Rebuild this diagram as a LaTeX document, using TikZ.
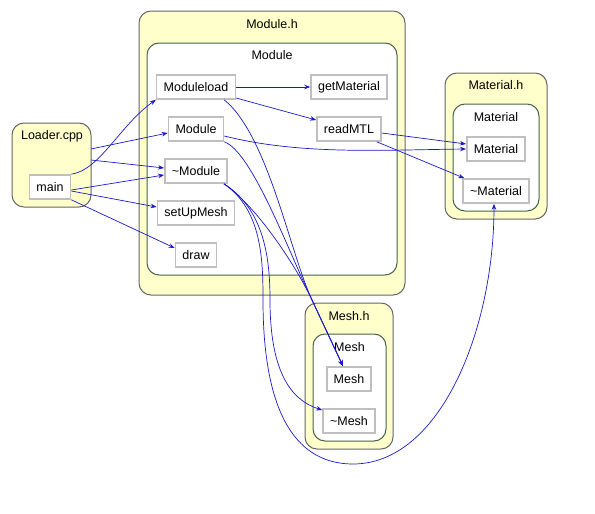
\documentclass[tikz,border=0pt]{standalone}
\usepackage{fontspec}
\setmainfont{Liberation Sans}
\usetikzlibrary{arrows.meta}
\definecolor{edgeblue}{RGB}{26,26,204}
\definecolor{filebg}{RGB}{255,255,204}
\definecolor{fileline}{RGB}{102,102,102}
\definecolor{classline}{RGB}{70,100,70}
\definecolor{fnline}{RGB}{191,191,191}
\tikzset{
  filebox/.style={draw=fileline, fill=filebg, rounded corners=12pt, line width=1pt},
  classbox/.style={draw=classline, fill=white, rounded corners=12pt, line width=1pt},
  fnbox/.style={draw=fnline, fill=white, line width=1.6pt, minimum height=24pt, inner xsep=7pt, font=\fontsize{12.5}{14}\selectfont},
  title/.style={font=\fontsize{12.5}{14}\selectfont},
  call/.style={draw=edgeblue, line width=0.7pt, -{Stealth[length=6pt,width=4.5pt]}},
}
\begin{document}
\begin{tikzpicture}[x=1pt, y=-1pt]
			\useasboundingbox (0,0) rectangle (595,514);
			
			%%%%% CLUSTERS %%%%%
			\draw[filebox] (12,123) rectangle (91,207);
			\node[title] (loadertitle) at (52,136) {Loader.cpp};
			
			\draw[filebox] (139,11) rectangle (405,295);
			\node[title] (moduletitle) at (272,24) {Module.h};
			\draw[classbox] (147,43) rectangle (397,275);
			\node[title] (moduleclass) at (272,55) {Module};
			
			\draw[filebox] (445,73) rectangle (547,219);
			\node[title] (materialtitle) at (496,85) {Material.h};
			\draw[classbox] (453,104) rectangle (539,211);
			\node[title] (materialclass) at (496,117) {Material};
			
			\draw[filebox] (305,303) rectangle (393,449);
			\node[title] (meshtitle) at (349,316) {Mesh.h};
			\draw[classbox] (313,334) rectangle (386,441);
			\node[title] (meshclass) at (349.5,347) {Mesh};
			
			%%%%% FUNCTIONS %%%%%
			\node[fnbox] (main) at (50,187) {main};
			
			\node[fnbox] (moduleload) at (196,87) {Moduleload};
			\node[fnbox] (getmaterial) at (349,87) {getMaterial};
			\node[fnbox] (module) at (196,129) {Module};
			\node[fnbox] (readmtl) at (349,129) {readMTL};
			\node[fnbox] (tmodule) at (196,171) {\textasciitilde Module};
			\node[fnbox] (setupmesh) at (196,213) {setUpMesh};
			\node[fnbox] (drawfn) at (196,255) {draw};
			
			\node[fnbox] (material) at (496,149) {Material};
			\node[fnbox] (tmaterial) at (496,191) {\textasciitilde Material};
			
			\node[fnbox] (mesh) at (349,379) {Mesh};
			\node[fnbox] (tmesh) at (349,421) {\textasciitilde Mesh};
			
			\coordinate (loaderA) at (91,149);
			\coordinate (loaderB) at (91,160);
			\coordinate (meshjoin) at (312,300);
			
			%%%%% CALLS %%%%%
			\draw[call] (main.north east) .. controls (100,170) and (120,125) .. (moduleload.south west);
			\draw[call] (loaderA) -- ([yshift=-4pt]module.west);
			\draw[call] (loaderB) -- ([yshift=3pt]tmodule.west);
			\draw[call] ([yshift=-3pt]main.east) -- ([yshift=-4pt]tmodule.west);
			\draw[call] ([yshift=-4pt]main.east) -- ([yshift=6pt]setupmesh.west);
			\draw[call] (main.south east) -- ([yshift=7pt]drawfn.west);
			
			\draw[call, line width=1pt] (moduleload.east) -- (getmaterial.west);
			\draw[call] ([yshift=-11pt]moduleload.east) -- ([yshift=9pt]readmtl.west);
			\draw[call] ([xshift=-12pt]moduleload.south east) .. controls (268,135) and (290,253) .. (meshjoin) -- ([xshift=-6pt]mesh.north);
			\draw[call] (module.south east) .. controls (252,152) and (288,250) .. (meshjoin) -- ([xshift=-6pt]mesh.north);
			\draw[call] ([yshift=-7pt]module.east) .. controls (300,155) and (380,150) .. (material.west);
			\draw[call] ([yshift=-4pt]readmtl.east) -- ([yshift=5pt]material.west);
			\draw[call] ([xshift=-5pt]readmtl.south east) -- ([xshift=2pt]tmaterial.north west);
			
			\draw[call] ([xshift=-4pt]tmodule.south east) .. controls (255,205) and (294,262) .. (meshjoin) -- ([xshift=-6pt]mesh.north);
			\draw[call] ([xshift=-4pt]tmodule.south east) .. controls (265,210) and (270,260) .. (270,300)
				.. controls (270,370) and (290,400) .. ([yshift=11pt]tmesh.west);
			\draw[call] ([xshift=-4pt]tmodule.south east) .. controls (262,210) and (263,260) .. (263,300)
				.. controls (263,420) and (300,464) .. (353,464)
				.. controls (440,464) and (494,330) .. ([xshift=-2pt]tmaterial.south);
			
\end{tikzpicture}
\end{document}
